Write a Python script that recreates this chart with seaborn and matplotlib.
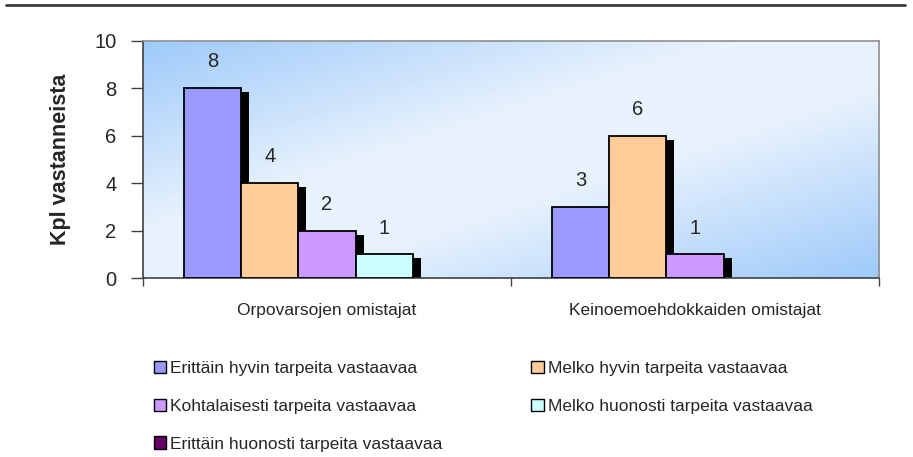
import numpy as np
import pandas as pd
import seaborn as sns
import matplotlib.pyplot as plt
import matplotlib.transforms as mtransforms
from matplotlib.patches import Rectangle, Patch
from matplotlib.lines import Line2D

categories = ["Orpovarsojen omistajat", "Keinoemoehdokkaiden omistajat"]
series = ["Erittäin hyvin tarpeita vastaavaa", "Melko hyvin tarpeita vastaavaa",
          "Kohtalaisesti tarpeita vastaavaa", "Melko huonosti tarpeita vastaavaa",
          "Erittäin huonosti tarpeita vastaavaa"]
values_orpo = [8, 4, 2, 1, 0]
values_keino = [3, 6, 1, 0, 0]
colors = ["#9999FF", "#FFCC99", "#CC99FF", "#CCFFFF", "#660066"]
yticks = [0, 2, 4, 6, 8, 10]

rows = []
for s, a, b in zip(series, values_orpo, values_keino):
    rows.append({"cat": categories[0], "series": s, "n": a})
    rows.append({"cat": categories[1], "series": s, "n": b})
df = pd.DataFrame(rows)

sns.set_style("white")
plt.rcParams['font.family'] = ['Liberation Sans', 'DejaVu Sans']

fig = plt.figure(figsize=(9.13, 4.57), dpi=100)
ax = fig.add_axes([143 / 913, 1 - 278 / 457, 736 / 913, (278 - 40.7) / 457])

# gradient background of the plot area
gx, gy = np.meshgrid(np.linspace(0, 1, 200), np.linspace(0, 1, 200))
t = (gx + gy) / 2
w = np.clip(1.25 * (1 - np.abs(2 * t - 1)), 0, 1)
blue = np.array([158, 202, 250]) / 255
light = np.array([232, 242, 253]) / 255
img = blue[None, None, :] * (1 - w[..., None]) + light[None, None, :] * w[..., None]
ax.imshow(img, extent=[0, 1, 0, 1], transform=ax.transAxes, aspect='auto', zorder=0, origin='upper')

sns.barplot(data=df, x="cat", y="n", hue="series", order=categories, hue_order=series,
            palette=colors, width=0.775, gap=0, edgecolor="black", linewidth=1.3,
            saturation=1, legend=False, ax=ax, zorder=3)

# drop shadows behind bars
shift = mtransforms.ScaledTranslation(8 / 100, -4 / 100, fig.dpi_scale_trans)
for p in list(ax.patches):
    if p.get_height() <= 0:
        p.set_linewidth(0)
        continue
    sh = Rectangle((p.get_x(), 0), p.get_width(), p.get_height(),
                   facecolor="black", edgecolor="none", zorder=2,
                   transform=ax.transData + shift, clip_on=True)
    ax.add_patch(sh)

for cont in ax.containers:
    labels = [f"{int(v)}" if v > 0 else "" for v in cont.datavalues]
    ax.bar_label(cont, labels=labels, padding=12, fontsize=14.5)

ax.set_xlim(-0.5, 1.5)
ax.set_ylim(0, 10)
ax.set_yticks(yticks)
ax.set_xticks([0, 1])
ax.set_xticklabels(categories, fontsize=12.5)
ax.set_xticks([-0.5, 0.5, 1.5], minor=True)
ax.tick_params(axis='x', which='major', length=0, pad=18)
ax.tick_params(axis='x', which='minor', length=6, direction='out', color='#404040', width=1, bottom=True)
ax.tick_params(axis='y', length=9, direction='out', color='#404040', width=1, pad=10, labelsize=14.5, left=True)
ax.set_xlabel("")
ax.set_ylabel("Kpl vastanneista", fontsize=15.5, fontweight='bold', labelpad=17)

for side in ["left", "bottom"]:
    ax.spines[side].set_color("#404040")
    ax.spines[side].set_linewidth(1.2)
for side in ["top", "right"]:
    ax.spines[side].set_visible(True)
    ax.spines[side].set_color("#909090")
    ax.spines[side].set_linewidth(1.2)

# legend is filled column-wise, so reorder to read row-wise like the original
order = [0, 2, 4, 1, 3]
handles = [Patch(facecolor=colors[i], edgecolor="black", linewidth=1) for i in order]
fig.legend(handles, [series[i] for i in order], loc="upper left",
           bbox_to_anchor=(147 / 913, 1 - 354 / 457),
           ncol=2, frameon=False, fontsize=12.5, handlelength=0.7, handleheight=0.7,
           handletextpad=0.25, columnspacing=5.1, labelspacing=1.3, borderaxespad=0)

fig.add_artist(Line2D([6 / 913, 905 / 913], [1 - 4.5 / 457, 1 - 4.5 / 457],
                      color="#3a3a3a", linewidth=2, transform=fig.transFigure))

fig.savefig("out.png", dpi=100)
